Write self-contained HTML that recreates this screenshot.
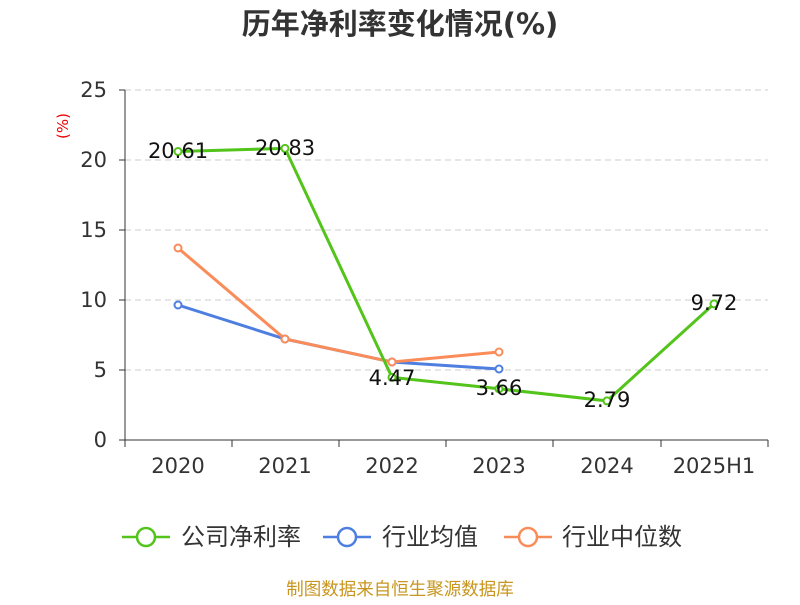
<!DOCTYPE html>
<html><head><meta charset="utf-8"><style>
body{margin:0;background:#fff}
svg text{font-family:"DejaVu Sans","Noto Sans CJK SC",sans-serif}
</style></head><body>
<svg width="800" height="600" xmlns="http://www.w3.org/2000/svg">
<text x="400" y="34" text-anchor="middle" font-size="29" font-weight="bold" fill="#333" font-family="Liberation Sans, Noto Sans CJK SC, sans-serif">历年净利率变化情况(%)</text>
<text x="68" y="126" font-size="15" fill="#e00" transform="rotate(-90 68 126)" text-anchor="middle">(%)</text>
<g stroke="#ccc" stroke-dasharray="6,4" stroke-width="1">
<line x1="125" y1="90" x2="768" y2="90"/><line x1="125" y1="160" x2="768" y2="160"/>
<line x1="125" y1="230" x2="768" y2="230"/><line x1="125" y1="300" x2="768" y2="300"/>
<line x1="125" y1="370" x2="768" y2="370"/></g>
<g stroke="#333" stroke-width="1">
<line x1="125" y1="90" x2="125" y2="440"/><line x1="125" y1="440" x2="768" y2="440"/>
<line x1="119" y1="90" x2="125" y2="90"/><line x1="119" y1="160" x2="125" y2="160"/><line x1="119" y1="230" x2="125" y2="230"/><line x1="119" y1="300" x2="125" y2="300"/><line x1="119" y1="370" x2="125" y2="370"/><line x1="119" y1="440" x2="125" y2="440"/>
<line x1="125" y1="440" x2="125" y2="447"/><line x1="232" y1="440" x2="232" y2="447"/><line x1="339" y1="440" x2="339" y2="447"/><line x1="446" y1="440" x2="446" y2="447"/><line x1="553" y1="440" x2="553" y2="447"/><line x1="661" y1="440" x2="661" y2="447"/><line x1="768" y1="440" x2="768" y2="447"/>
</g>
<g font-size="21" fill="#333" text-anchor="end">
<text x="107" y="97">25</text><text x="107" y="167">20</text><text x="107" y="237">15</text><text x="107" y="307">10</text><text x="107" y="377">5</text><text x="107" y="447">0</text></g>
<g font-size="21" fill="#333" text-anchor="middle">
<text x="178" y="473">2020</text><text x="285" y="473">2021</text><text x="392" y="473">2022</text><text x="499" y="473">2023</text><text x="607" y="473">2024</text><text x="714" y="473">2025H1</text></g>
<g fill="none" stroke-width="3">
<polyline stroke="#4e7fe0" points="178,305 285,339 392,362 499,369"/>
<polyline stroke="#fa8c5a" points="178,248 285,339 392,362 499,352"/>
<polyline stroke="#52c41a" points="178,151.5 285,148.4 392,377.4 499,388.8 607,400.9 714,303.9"/>
</g>
<g fill="#fff" stroke-width="2">
<g stroke="#4e7fe0"><circle cx="178" cy="305" r="3.5"/><circle cx="285" cy="339" r="3.5"/><circle cx="392" cy="362" r="3.5"/><circle cx="499" cy="369" r="3.5"/></g>
<g stroke="#fa8c5a"><circle cx="178" cy="248" r="3.5"/><circle cx="285" cy="339" r="3.5"/><circle cx="392" cy="362" r="3.5"/><circle cx="499" cy="352" r="3.5"/></g>
<g stroke="#52c41a"><circle cx="178" cy="151.5" r="3.5"/><circle cx="285" cy="148.4" r="3.5"/><circle cx="392" cy="377.4" r="3.5"/><circle cx="499" cy="388.8" r="3.5"/><circle cx="607" cy="400.9" r="3.5"/><circle cx="714" cy="303.9" r="3.5"/></g>
</g>
<g font-size="21" fill="#111" text-anchor="middle">
<text x="178" y="158">20.61</text><text x="285" y="155">20.83</text><text x="392" y="385">4.47</text><text x="499" y="395">3.66</text><text x="607" y="407">2.79</text><text x="714" y="310">9.72</text></g>
<g stroke-width="2.5" fill="#fff">
<line x1="122" y1="537" x2="170" y2="537" stroke="#52c41a"/><circle cx="146" cy="537" r="9" stroke="#52c41a"/>
<line x1="323" y1="537" x2="371" y2="537" stroke="#4e7fe0"/><circle cx="347" cy="537" r="9" stroke="#4e7fe0"/>
<line x1="504" y1="537" x2="552" y2="537" stroke="#fa8c5a"/><circle cx="528" cy="537" r="9" stroke="#fa8c5a"/>
</g>
<g font-size="24" fill="#333">
<text x="181" y="545">公司净利率</text><text x="382" y="545">行业均值</text><text x="562" y="545">行业中位数</text></g>
<text x="400" y="595" text-anchor="middle" font-size="17.5" fill="#c8961e">制图数据来自恒生聚源数据库</text>
</svg>
</body></html>
